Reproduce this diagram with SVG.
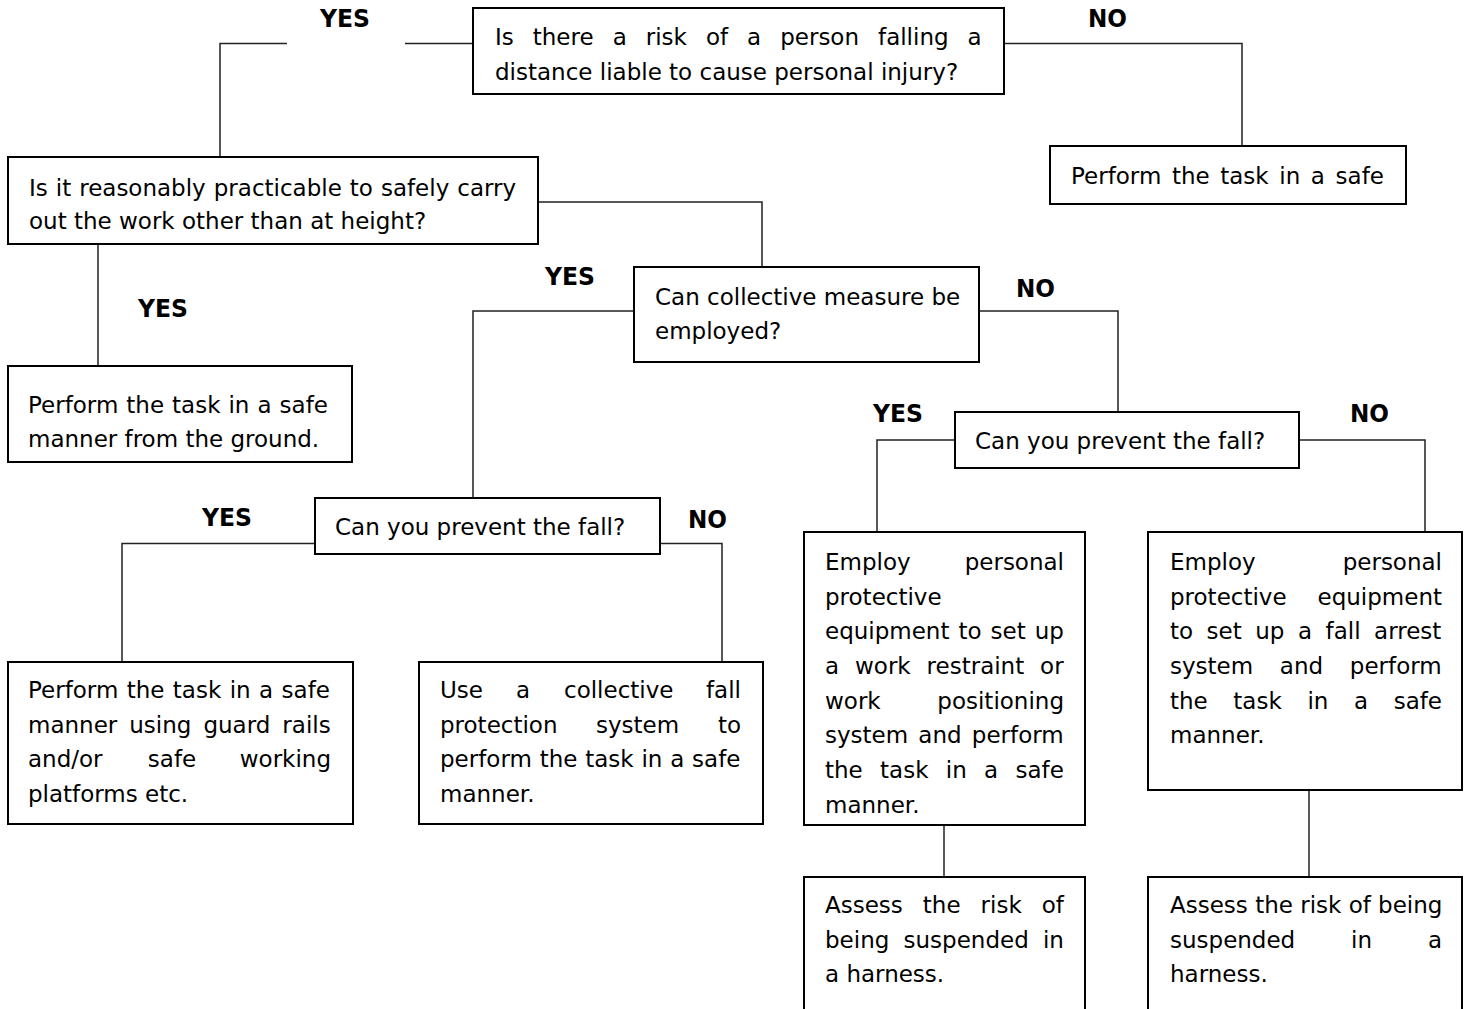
<svg xmlns="http://www.w3.org/2000/svg" width="1469" height="1009" viewBox="0 0 1469 1009">
<style>
.box{fill:#fff;stroke:#000;stroke-width:2}
.c{fill:none;stroke:#222;stroke-width:1.5}
.t{font-family:"DejaVu Sans",Verdana,sans-serif;font-size:23px;fill:#000}
.e{text-anchor:end}
.m{text-anchor:middle}
.lb{font-family:"DejaVu Sans",Verdana,sans-serif;font-size:25px;font-weight:bold;fill:#000}
</style>
<rect width="1469" height="1009" fill="#fff"/>
<g id="connectors">
<path class="c" d="M473,43.5 H405 M287,43.5 H220 V157"/>
<path class="c" d="M1004,43.5 H1242 V146"/>
<path class="c" d="M98,244 V366"/>
<path class="c" d="M538,202 H762 V267"/>
<path class="c" d="M634,311 H473 V498"/>
<path class="c" d="M979,311 H1118 V412"/>
<path class="c" d="M315,543.5 H122 V662"/>
<path class="c" d="M660,543.5 H722 V662"/>
<path class="c" d="M955,440 H877 V532"/>
<path class="c" d="M1299,440 H1425 V532"/>
<path class="c" d="M944,825 V877"/>
<path class="c" d="M1309,790 V877"/>
</g>
<g id="labels">
<text class="lb" x="320" y="27" textLength="50" lengthAdjust="spacingAndGlyphs">YES</text>
<text class="lb" x="1088" y="27" textLength="39" lengthAdjust="spacingAndGlyphs">NO</text>
<text class="lb" x="138" y="317" textLength="50" lengthAdjust="spacingAndGlyphs">YES</text>
<text class="lb" x="545" y="285" textLength="50" lengthAdjust="spacingAndGlyphs">YES</text>
<text class="lb" x="1016" y="297" textLength="39" lengthAdjust="spacingAndGlyphs">NO</text>
<text class="lb" x="202" y="526" textLength="50" lengthAdjust="spacingAndGlyphs">YES</text>
<text class="lb" x="688" y="528" textLength="39" lengthAdjust="spacingAndGlyphs">NO</text>
<text class="lb" x="873" y="422" textLength="50" lengthAdjust="spacingAndGlyphs">YES</text>
<text class="lb" x="1350" y="422" textLength="39" lengthAdjust="spacingAndGlyphs">NO</text>
</g>
<g id="q-risk">
<rect class="box" x="473" y="8" width="531" height="86"/>
<text class="t" x="495" y="45" word-spacing="11.7">Is there a risk of a person falling a</text>
<text class="t" x="495" y="80">distance liable to cause personal injury?</text>
</g>
<g id="no-risk">
<rect class="box" x="1050" y="146" width="356" height="58"/>
<text class="t" x="1071" y="184" word-spacing="3.3">Perform the task in a safe</text>
</g>
<g id="q-practicable">
<rect class="box" x="8" y="157" width="530" height="87"/>
<text class="t" x="29" y="196" word-spacing="0.7">Is it reasonably practicable to safely carry</text>
<text class="t" x="29" y="229">out the work other than at height?</text>
</g>
<g id="ground">
<rect class="box" x="8" y="366" width="344" height="96"/>
<text class="t" x="28" y="413" word-spacing="0.7">Perform the task in a safe</text>
<text class="t" x="28" y="447">manner from the ground.</text>
</g>
<g id="q-collective">
<rect class="box" x="634" y="267" width="345" height="95"/>
<text class="t" x="655" y="305">Can collective measure be</text>
<text class="t" x="655" y="339">employed?</text>
</g>
<g id="q-prevent-left">
<rect class="box" x="315" y="498" width="345" height="56"/>
<text class="t" x="335" y="535">Can you prevent the fall?</text>
</g>
<g id="q-prevent-right">
<rect class="box" x="955" y="412" width="344" height="56"/>
<text class="t" x="975" y="449">Can you prevent the fall?</text>
</g>
<g id="guard-rails">
<rect class="box" x="8" y="662" width="345" height="162"/>
<text class="t" x="28" y="698" word-spacing="1.1">Perform the task in a safe</text>
<text class="t" x="28" y="733" word-spacing="4.7">manner using guard rails</text>
<text class="t" x="28" y="767">and/or</text>
<text class="t m" x="172" y="767">safe</text>
<text class="t e" x="331" y="767">working</text>
<text class="t" x="28" y="802">platforms etc.</text>
</g>
<g id="collective-fall">
<rect class="box" x="419" y="662" width="344" height="162"/>
<text class="t" x="440" y="698">Use</text>
<text class="t" x="516" y="698">a</text>
<text class="t" x="564" y="698">collective</text>
<text class="t e" x="741" y="698">fall</text>
<text class="t" x="440" y="733">protection</text>
<text class="t" x="596" y="733">system</text>
<text class="t e" x="741" y="733">to</text>
<text class="t" x="440" y="767" word-spacing="0.5">perform the task in a safe</text>
<text class="t" x="440" y="802">manner.</text>
</g>
<g id="restraint">
<rect class="box" x="804" y="532" width="281" height="293"/>
<text class="t" x="825" y="570">Employ</text>
<text class="t e" x="1064" y="570">personal</text>
<text class="t" x="825" y="605">protective</text>
<text class="t" x="825" y="639" word-spacing="1.7">equipment to set up</text>
<text class="t" x="825" y="674" word-spacing="8.6">a work restraint or</text>
<text class="t" x="825" y="709">work</text>
<text class="t e" x="1064" y="709">positioning</text>
<text class="t" x="825" y="743" word-spacing="2.9">system and perform</text>
<text class="t" x="825" y="778" word-spacing="10">the task in a safe</text>
<text class="t" x="825" y="813">manner.</text>
</g>
<g id="fall-arrest">
<rect class="box" x="1148" y="532" width="314" height="258"/>
<text class="t" x="1170" y="570">Employ</text>
<text class="t e" x="1442" y="570">personal</text>
<text class="t" x="1170" y="605">protective</text>
<text class="t e" x="1442" y="605">equipment</text>
<text class="t" x="1170" y="639" word-spacing="6.2">to set up a fall arrest</text>
<text class="t" x="1170" y="674" word-spacing="19.4">system and perform</text>
<text class="t" x="1170" y="709" word-spacing="18.3">the task in a safe</text>
<text class="t" x="1170" y="743">manner.</text>
</g>
<g id="assess-left">
<rect class="box" x="804" y="877" width="281" height="140"/>
<text class="t" x="825" y="913" word-spacing="12.7">Assess the risk of</text>
<text class="t" x="825" y="948" word-spacing="6.9">being suspended in</text>
<text class="t" x="825" y="982">a harness.</text>
</g>
<g id="assess-right">
<rect class="box" x="1148" y="877" width="314" height="140"/>
<text class="t" x="1170" y="913">Assess the risk of being</text>
<text class="t" x="1170" y="948">suspended</text>
<text class="t" x="1351" y="948">in</text>
<text class="t e" x="1442" y="948">a</text>
<text class="t" x="1170" y="982">harness.</text>
</g>
</svg>
